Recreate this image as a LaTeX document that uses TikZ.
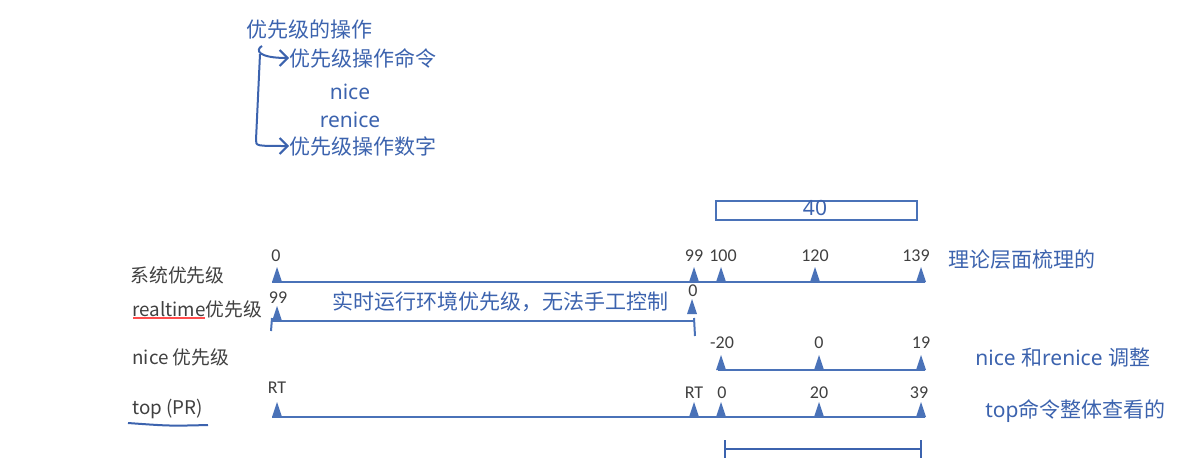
\documentclass[tikz,border=0pt]{standalone}
\usepackage{fontspec}
\setmainfont{Carlito}
\newfontfamily\cjk{Noto Sans CJK SC}
\usetikzlibrary{arrows.meta}
\definecolor{hb}{HTML}{3C63AE}
\definecolor{ln}{HTML}{4A72B8}
\definecolor{gt}{HTML}{404040}
\tikzset{
  hand/.style={text=hb,font=\cjk\fontsize{10.5}{12}\selectfont,inner sep=0pt},
  lab/.style={text=gt,font=\cjk\fontsize{9.4}{11}\selectfont,inner sep=0pt,anchor=west},
  num/.style={text=gt,font=\fontsize{9}{10}\selectfont,inner sep=0pt},
  axis/.style={draw=ln,line width=1.1pt},
  tri/.pic={\fill[ln] (-5,0) -- (5,0) -- (0,-15) -- cycle;},
}
\begin{document}
\begin{tikzpicture}[x=0.5pt,y=-0.5pt]
\useasboundingbox (0,0) rectangle (1193,471);
% top handwritten part
\node[hand,anchor=west] (op) at (246,30) {优先级的操作};
\node[hand,anchor=west] (cmd) at (289,58) {优先级操作命令};
\node[hand] (nice) at (350,92) {\fontspec{Noto Sans}nice};
\node[hand] (renice) at (350,120) {\fontspec{Noto Sans}renice};
\node[hand,anchor=west] (num) at (289,146) {优先级操作数字};
\coordinate (h) at (262,46);
\draw[hb,line width=1pt,-{Straight Barb[length=4pt]}] (h) .. controls (255,50) and (258,58) .. (cmd.west);
\draw[hb,line width=1pt,-{Straight Barb[length=4pt]}] (260,54) -- (256,140) .. controls (256,146) .. (num.west);
% labels
\node[lab] (l1) at (130,275) {系统优先级};
\node[lab] (l2) at (132,309) {realtime优先级};
\node[lab] (l3) at (132,357) {nice 优先级};
\node[lab] (l4) at (132,409) {top (PR)};
\draw[red!70,line width=0.6pt] (133,318) -- (205,318);
\draw[hb,line width=1pt] (128,423) .. controls (170,426) .. (208,425);
% axis 1
\coordinate (a1s) at (272,282); \coordinate (a1e) at (925,282);
\draw[axis] (a1s) -- (a1e);
\foreach \x in {277,694,721,815,921} \pic at (\x,282) {tri};
\node[num] (n0) at (276,256) {0};
\node[num] (n99) at (694,256) {99};
\node[num] (n100) at (723,256) {100};
\node[num] (n120) at (815,256) {120};
\node[num] (n139) at (916,256) {139};
% axis 2
\coordinate (a2s) at (272,321); \coordinate (a2e) at (694,321);
\draw[axis] (a2s) -- (a2e);
\draw[ln,line width=1pt] (272,318) -- (271,331);
\draw[ln,line width=1pt] (694,318) -- (695,336);
\pic at (277,321) {tri}; \pic at (692,314) {tri};
\node[num] (r99) at (278,298) {99};
\node[num] (r0) at (693,291) {0};
\node[hand] (rt) at (500,302) {实时运行环境优先级，无法手工控制};
% axis 3
\coordinate (a3s) at (718,370); \coordinate (a3e) at (925,370);
\draw[axis] (a3s) -- (a3e);
\foreach \x in {721,819,921} \pic at (\x,370) {tri};
\node[num] (m20) at (722,343) {-20};
\node[num] (m0) at (819,343) {0};
\node[num] (m19) at (921,343) {19};
% axis 4
\coordinate (a4s) at (272,417); \coordinate (a4e) at (925,417);
\draw[axis] (a4s) -- (a4e);
\foreach \x in {277,694,721,819,921} \pic at (\x,417) {tri};
\node[num] (t1) at (277,388) {RT};
\node[num] (t2) at (694,393) {RT};
\node[num] (t3) at (722,393) {0};
\node[num] (t4) at (819,393) {20};
\node[num] (t5) at (919,393) {39};
% box 40
\node[draw=ln,line width=0.8pt,minimum width=100.5pt,minimum height=9.5pt,inner sep=0pt] (b40) at (816.5,210.5) {};
\node[hand,font=\fontspec{Noto Sans}\fontsize{10.5}{12}\selectfont] (t40) at (815,208) {40};
% bracket
\draw[hb,line width=1pt] (725,449) -- (921,449);
\draw[hb,line width=1pt] (725,440) -- (725,458);
\draw[hb,line width=1pt] (921,440) -- (921,458);
% right notes
\node[hand,anchor=west] (rn1) at (948,260) {理论层面梳理的};
\node[hand,anchor=west] (rn2) at (975,358) {\fontspec{Noto Sans}nice \cjk 和\fontspec{Noto Sans}renice \cjk 调整};
\node[hand,anchor=west] (rn3) at (985,411) {\fontspec{Noto Sans}top\cjk 命令整体查看的};
\end{tikzpicture}
\end{document}
